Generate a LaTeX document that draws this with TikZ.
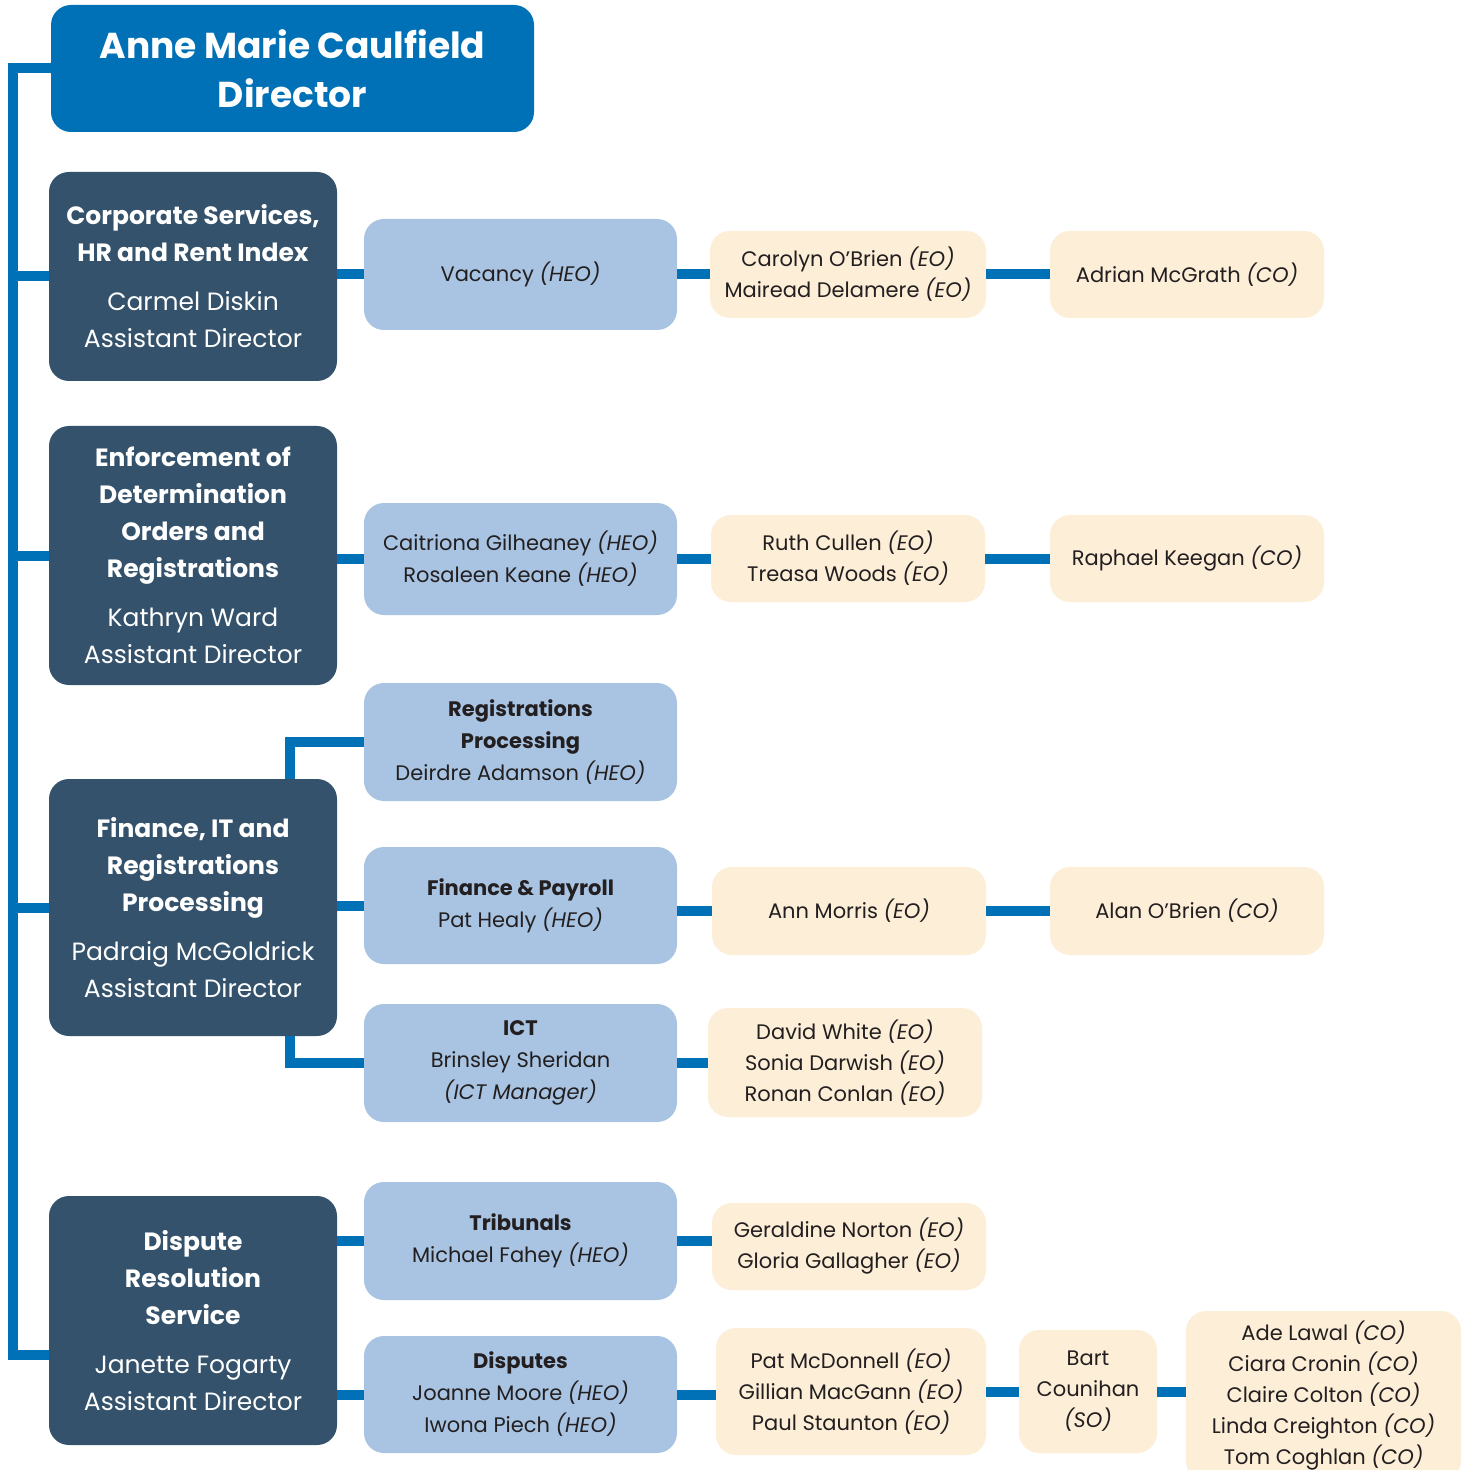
\documentclass[tikz,border=0pt]{standalone}
\usepackage{fontspec}
\setmainfont{Poppins}
\definecolor{dirblue}{RGB}{0,113,182}
\definecolor{headblue}{RGB}{52,82,107}
\definecolor{unitblue}{RGB}{168,196,226}
\definecolor{staffcream}{RGB}{253,238,216}
\definecolor{ink}{RGB}{35,31,32}
\begin{document}
\begin{tikzpicture}[x=0.5pt,y=-0.5pt,
    box/.style={rounded corners=10pt, inner sep=0pt, align=center},
    director/.style={box, fill=dirblue, text=white, font=\bfseries\fontsize{18}{24.5}\selectfont},
    head/.style={box, fill=headblue, text=white, minimum width=144pt, font=\fontsize{12.5}{18.5}\selectfont},
    unit/.style={box, fill=unitblue, text=ink, minimum width=156.5pt, font=\fontsize{10.5}{16}\selectfont},
    staff/.style={box, fill=staffcream, text=ink, font=\fontsize{10.5}{15.5}\selectfont},
    link/.style={draw=dirblue, line width=5pt, line join=miter}]
  \clip (0,0) rectangle (1469,1470);
  \fill[white] (0,0) rectangle (1469,1470);

  % Director
  \node[director, minimum width=241.5pt, minimum height=63.5pt] (dir) at (292.5,68.5)
    {Anne Marie Caulfield\\Director};

  % Assistant directors
  \node[head, minimum height=104.5pt] (corp) at (193,276.5)
    {\textbf{Corporate Services,}\\\textbf{HR and Rent Index}\\[6pt]Carmel Diskin\\Assistant Director};
  \node[head, minimum height=129.5pt] (enf) at (193,555.5)
    {\textbf{Enforcement of}\\\textbf{Determination}\\\textbf{Orders and}\\\textbf{Registrations}\\[6pt]Kathryn Ward\\Assistant Director};
  \node[head, minimum height=128.5pt] (fin) at (193,907.5)
    {\textbf{Finance, IT and}\\\textbf{Registrations}\\\textbf{Processing}\\[6pt]Padraig McGoldrick\\Assistant Director};
  \node[head, minimum height=124.5pt] (dsr) at (193,1320.5)
    {\textbf{Dispute}\\\textbf{Resolution}\\\textbf{Service}\\[6pt]Janette Fogarty\\Assistant Director};

  % Units
  \node[unit, minimum height=55.5pt] (vac) at (520.5,274.5) {Vacancy \textit{(HEO)}};
  \node[unit, minimum height=56pt] (cait) at (520.5,559)
    {Caitriona Gilheaney \textit{(HEO)}\\Rosaleen Keane \textit{(HEO)}};
  \node[unit, minimum height=59pt] (reg) at (520.5,742)
    {\textbf{Registrations}\\\textbf{Processing}\\Deirdre Adamson \textit{(HEO)}};
  \node[unit, minimum height=58.5pt] (pay) at (520.5,905.5)
    {\textbf{Finance \& Payroll}\\Pat Healy \textit{(HEO)}};
  \node[unit, minimum height=59pt] (ict) at (520.5,1063)
    {\textbf{ICT}\\Brinsley Sheridan\\\textit{(ICT Manager)}};
  \node[unit, minimum height=59pt] (trib) at (520.5,1241)
    {\textbf{Tribunals}\\Michael Fahey \textit{(HEO)}};
  \node[unit, minimum height=58.5pt] (disp) at (520.5,1394.5)
    {\textbf{Disputes}\\Joanne Moore \textit{(HEO)}\\Iwona Piech \textit{(HEO)}};

  % Staff
  \node[staff, minimum width=138pt, minimum height=43.5pt] (carolyn) at (848,274.5)
    {Carolyn O’Brien \textit{(EO)}\\Mairead Delamere \textit{(EO)}};
  \node[staff, minimum width=137pt, minimum height=43.5pt] (adrian) at (1187,274.5)
    {Adrian McGrath \textit{(CO)}};
  \node[staff, minimum width=137pt, minimum height=43.5pt] (ruth) at (848,558.5)
    {Ruth Cullen \textit{(EO)}\\Treasa Woods \textit{(EO)}};
  \node[staff, minimum width=137pt, minimum height=43.5pt] (raphael) at (1187,558.5)
    {Raphael Keegan \textit{(CO)}};
  \node[staff, minimum width=137pt, minimum height=44pt] (ann) at (849,911)
    {Ann Morris \textit{(EO)}};
  \node[staff, minimum width=137pt, minimum height=44pt] (alan) at (1187,911)
    {Alan O’Brien \textit{(CO)}};
  \node[staff, minimum width=137pt, minimum height=54.5pt] (david) at (845,1062.5)
    {David White \textit{(EO)}\\Sonia Darwish \textit{(EO)}\\Ronan Conlan \textit{(EO)}};
  \node[staff, minimum width=137pt, minimum height=43.5pt] (geraldine) at (849,1246.5)
    {Geraldine Norton \textit{(EO)}\\Gloria Gallagher \textit{(EO)}};
  \node[staff, minimum width=135pt, minimum height=63.5pt] (pat) at (851,1391.5)
    {Pat McDonnell \textit{(EO)}\\Gillian MacGann \textit{(EO)}\\Paul Staunton \textit{(EO)}};
  \node[staff, minimum width=69pt, minimum height=61.5pt] (bart) at (1088,1391.5)
    {Bart\\Counihan\\\textit{(SO)}};
  \node[staff, minimum width=137.5pt, minimum height=85pt] (ade) at (1323.5,1396)
    {Ade Lawal \textit{(CO)}\\Ciara Cronin \textit{(CO)}\\Claire Colton \textit{(CO)}\\Linda Creighton \textit{(CO)}\\Tom Coghlan \textit{(CO)}};

  % Trunk from the director
  \coordinate (trunk) at (13,1355);
  \draw[link] (dir.west) -| (trunk) -- (trunk -| dsr.west);
  \draw[link] (trunk |- corp.west) -- (corp.west);
  \draw[link] (trunk |- enf.west) -- (enf.west);
  \draw[link] (trunk |- fin.west) -- (fin.west);

  % Assistant directors to units
  \draw[link] (vac.west -| corp.east) -- (vac.west);
  \draw[link] (cait.west -| enf.east) -- (cait.west);
  \draw[link] ([xshift=48.5pt]fin.north) |- (reg.west);
  \draw[link] (pay.west -| fin.east) -- (pay.west);
  \draw[link] ([xshift=48.5pt]fin.south) |- (ict.west);
  \draw[link] (trib.west -| dsr.east) -- (trib.west);
  \draw[link] (disp.west -| dsr.east) -- (disp.west);

  % Units to staff
  \draw[link] (vac.east) -- (carolyn.west);
  \draw[link] (carolyn.east) -- (adrian.west);
  \draw[link] (cait.east) -- (cait.east -| ruth.west);
  \draw[link] (ruth.east) -- (raphael.west);
  \draw[link] (pay.east |- ann.west) -- (ann.west);
  \draw[link] (ann.east) -- (alan.west);
  \draw[link] (ict.east) -- (ict.east -| david.west);
  \draw[link] (trib.east) -- (trib.east -| geraldine.west);
  \draw[link] (disp.east) -- (disp.east -| pat.west);
  \draw[link] (pat.east) -- (bart.west);
  \draw[link] (bart.east) -- (bart.east -| ade.west);
\end{tikzpicture}
\end{document}
